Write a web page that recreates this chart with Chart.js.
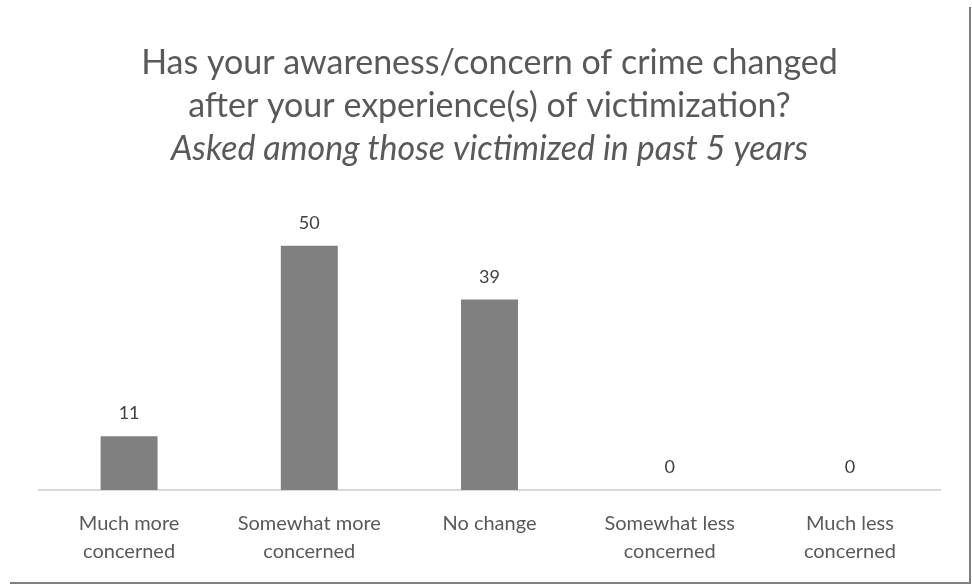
<!DOCTYPE html>
<html>
<head>
<meta charset="utf-8">
<title>Change in concern about crime after victimization</title>
<script src="https://cdn.jsdelivr.net/npm/chart.js@4/dist/chart.umd.min.js"></script>
<style>
  html, body { margin: 0; padding: 0; background: #ffffff; }
  #wrap { width: 972px; height: 586px; position: relative; }
</style>
</head>
<body>
<div id="wrap"><canvas id="chart" width="972" height="586"></canvas></div>
<script>
// Survey responses (percent of respondents)
const categories = [
  ['Much more', 'concerned'],
  ['Somewhat more', 'concerned'],
  ['No change'],
  ['Somewhat less', 'concerned'],
  ['Much less', 'concerned']
];
const responseShare = [11, 50, 39, 0, 0];

const titleLines = [
  'Has your awareness/concern of crime changed',
  'after your experience(s) of victimization?'
];
const subtitleLine = 'Asked among those victimized in past 5 years';

const FONT = "Lato, 'Open Sans', 'Liberation Sans', sans-serif";

// Value labels above each bar
const valueLabels = {
  id: 'valueLabels',
  afterDatasetsDraw(chart) {
    const { ctx } = chart;
    const meta = chart.getDatasetMeta(0);
    ctx.save();
    ctx.font = '18px ' + FONT;
    ctx.fillStyle = '#404040';
    ctx.textAlign = 'center';
    ctx.textBaseline = 'alphabetic';
    meta.data.forEach((bar, i) => {
      ctx.fillText(String(chart.data.datasets[0].data[i]), bar.x, bar.y - 17);
    });
    ctx.restore();
  }
};

// Chart-area frame along the right and bottom edges
const frame = {
  id: 'frame',
  afterDraw(chart) {
    const { ctx, width, height } = chart;
    ctx.save();
    ctx.strokeStyle = '#7f7f7f';
    ctx.lineWidth = 2;
    ctx.beginPath();
    ctx.moveTo(width - 2, 7);
    ctx.lineTo(width - 2, height - 3);
    ctx.lineTo(10, height - 3);
    ctx.stroke();
    ctx.restore();
  }
};

new Chart(document.getElementById('chart'), {
  type: 'bar',
  data: {
    labels: categories,
    datasets: [{
      data: responseShare,
      backgroundColor: '#808080',
      borderWidth: 0,
      categoryPercentage: 1,
      barPercentage: 0.316
    }]
  },
  options: {
    responsive: false,
    animation: false,
    layout: { padding: { left: 39, right: 32, top: 0, bottom: 0 } },
    plugins: {
      legend: { display: false },
      tooltip: { enabled: false },
      title: {
        display: true,
        text: titleLines,
        color: '#595959',
        font: { family: FONT, size: 34, weight: 'normal', lineHeight: 1.265 },
        padding: { top: 42, bottom: 0 }
      },
      subtitle: {
        display: true,
        text: subtitleLine,
        color: '#595959',
        font: { family: FONT, size: 34, style: 'italic', weight: 'normal', lineHeight: 1.265 },
        padding: { top: 0, bottom: 26 }
      }
    },
    scales: {
      x: {
        grid: { display: false, drawTicks: false },
        border: { display: true, color: '#d9d9d9', width: 2 },
        ticks: {
          color: '#595959',
          font: { family: FONT, size: 20, lineHeight: 1.4 },
          padding: 20,
          maxRotation: 0,
          autoSkip: false
        }
      },
      y: {
        display: false,
        min: 0,
        max: 60
      }
    }
  },
  plugins: [valueLabels, frame]
});
</script>
</body>
</html>
